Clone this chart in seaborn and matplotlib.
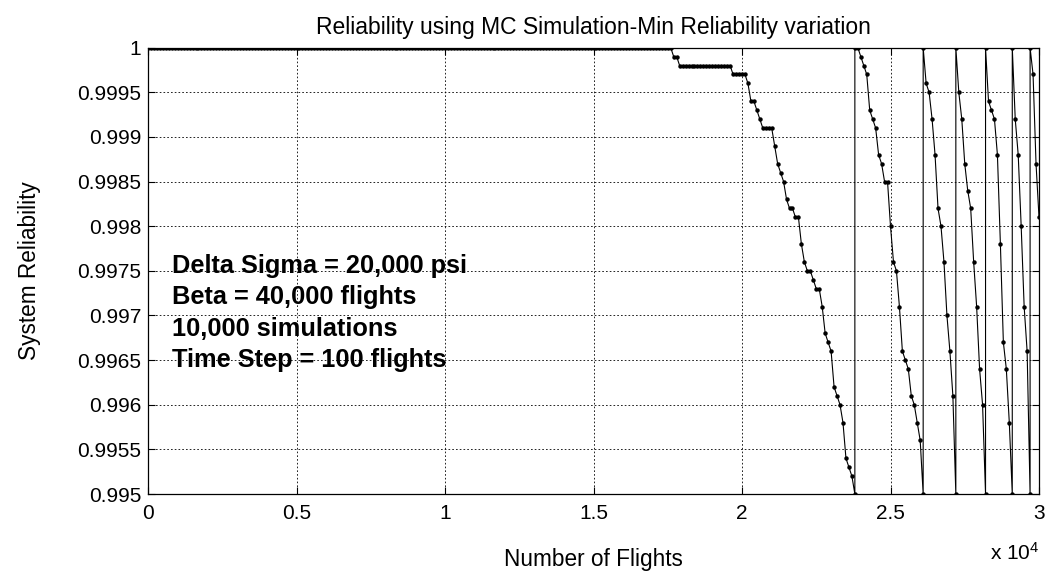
import numpy as np
import pandas as pd
import matplotlib
matplotlib.use("Agg")
import matplotlib.pyplot as plt
import seaborn as sns

# ---------------- data ----------------
time_step = 100  # flights between simulation outputs

cycle_starts = [0, 23800, 26100, 27200, 28200, 29100, 29700]

cycle1_values = ([1.0] * 177 + [0.9999] * 2 + [0.9998] * 18 + [0.9997] * 5 +
                 [0.9996, 0.9994, 0.9994, 0.9993, 0.9992,
                  0.9991, 0.9991, 0.9991, 0.9991,
                  0.9989, 0.9987, 0.9986, 0.9985, 0.9983, 0.9982, 0.9982,
                  0.9981, 0.9981, 0.9978, 0.9976, 0.9975, 0.9975, 0.9974,
                  0.9973, 0.9973, 0.9971, 0.9968, 0.9967, 0.9966, 0.9962,
                  0.9961, 0.9960, 0.9958, 0.9954, 0.9953, 0.9952, 0.9950])
cycle2_values = [1.0, 1.0, 0.9999, 0.9998, 0.9997, 0.9993, 0.9992, 0.9991,
                 0.9988, 0.9987, 0.9985, 0.9985, 0.9980, 0.9976, 0.9975,
                 0.9971, 0.9966, 0.9965, 0.9964, 0.9961, 0.9960, 0.9958,
                 0.9956, 0.9950]
cycle3_values = [1.0, 0.9996, 0.9995, 0.9992, 0.9988, 0.9982, 0.9980, 0.9976,
                 0.9970, 0.9966, 0.9961, 0.9950]
cycle4_values = [1.0, 0.9995, 0.9992, 0.9987, 0.9984, 0.9982, 0.9976, 0.9971,
                 0.9964, 0.9960, 0.9950]
cycle5_values = [1.0, 0.9994, 0.9993, 0.9992, 0.9988, 0.9978, 0.9967, 0.9964,
                 0.9958, 0.9950]
cycle6_values = [1.0, 0.9992, 0.9988, 0.9980, 0.9971, 0.9966, 0.9950]
cycle7_values = [1.0, 0.9997, 0.9987, 0.9981]

x_ticks = [0, 5000, 10000, 15000, 20000, 25000, 30000]
x_tick_labels = ["0", "0.5", "1", "1.5", "2", "2.5", "3"]
y_ticks = [0.995, 0.9955, 0.996, 0.9965, 0.997, 0.9975, 0.998, 0.9985,
           0.999, 0.9995, 1.0]
y_tick_labels = ["0.995", "0.9955", "0.996", "0.9965", "0.997", "0.9975",
                 "0.998", "0.9985", "0.999", "0.9995", "1"]

title_text = "Reliability using MC Simulation-Min Reliability variation"
x_label = "Number of Flights"
y_label = "System Reliability"
annotation_lines = ["Delta Sigma = 20,000 psi", "Beta = 40,000 flights",
                    "10,000 simulations", "Time Step = 100 flights"]

# ---------------- build long-form table ----------------
all_cycles = [cycle1_values, cycle2_values, cycle3_values, cycle4_values,
              cycle5_values, cycle6_values, cycle7_values]
rows = []
for start, vals in zip(cycle_starts, all_cycles):
    for i, v in enumerate(vals):
        rows.append((start + i * time_step, v))
df = pd.DataFrame(rows, columns=["flights", "reliability"])

# ---------------- style ----------------
sns.set_style("white")
plt.rcParams["font.family"] = ["Liberation Sans", "DejaVu Sans"]
plt.rcParams["mathtext.fontset"] = "custom"
plt.rcParams["mathtext.rm"] = "Liberation Sans"
plt.rcParams["mathtext.default"] = "regular"

fig = plt.figure(figsize=(10.48, 5.75), dpi=100, facecolor="white")
ax = fig.add_axes([148 / 1048, 81 / 575, 891 / 1048, 446.3 / 575])
ax.set_facecolor("white")

sns.lineplot(data=df, x="flights", y="reliability", sort=False,
             estimator=None, color="black", linewidth=0.8,
             marker="o", markersize=3.2, markeredgewidth=0,
             markerfacecolor="black", ax=ax)

ax.set_xlim(0, 30000)
ax.set_ylim(0.995, 1.0)
ax.set_xticks(x_ticks)
ax.set_xticklabels(x_tick_labels)
ax.set_yticks(y_ticks)
ax.set_yticklabels(y_tick_labels)

ax.grid(True, color="black", linestyle=(0, (2, 2.5)), linewidth=0.6)
ax.set_axisbelow(True)
for s in ax.spines.values():
    s.set_visible(True)
    s.set_color("black")
    s.set_linewidth(0.9)

ax.tick_params(axis="both", which="both", direction="in", length=5,
               width=0.8, colors="black", labelsize=15,
               top=True, right=True, bottom=True, left=True)
ax.tick_params(axis="x", pad=7)
ax.tick_params(axis="y", pad=5)

ax.set_title(title_text, fontsize=16.5, color="black", pad=10)
ax.set_xlabel(x_label, fontsize=16.3, color="black", labelpad=18)
ax.set_ylabel(y_label, fontsize=16.3, color="black", labelpad=26)

ax.text(1.0, -0.148, r"x 10$^{4}$", transform=ax.transAxes, ha="right",
        va="baseline", fontsize=15, color="black")

baselines = [0.4945, 0.4249, 0.3540, 0.2853]
for yb, line in zip(baselines, annotation_lines):
    ax.text(0.0269, yb, line, transform=ax.transAxes, ha="left",
            va="baseline", fontsize=18.3, fontweight="bold", color="black")

fig.savefig("out.png", dpi=100, facecolor="white")
